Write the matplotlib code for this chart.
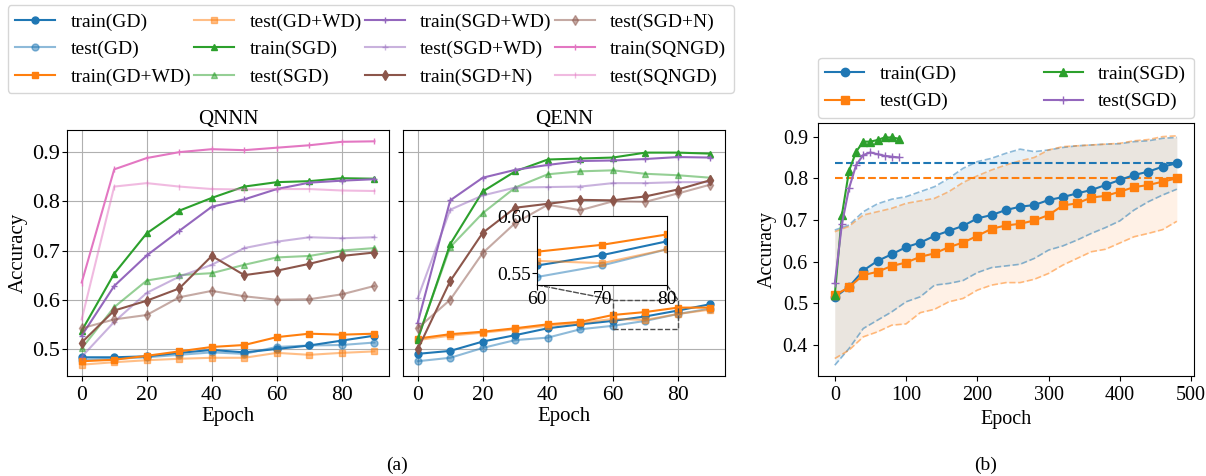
import matplotlib
matplotlib.use('Agg')
import matplotlib.pyplot as plt
from matplotlib.patches import ConnectionPatch

plt.rcParams['font.family'] = 'serif'
plt.rcParams['font.serif'] = ['Liberation Serif', 'DejaVu Serif']
plt.rcParams['font.size'] = 14

# ---- data (a) ----
epochs_a = [0, 10, 20, 30, 40, 50, 60, 70, 80, 90]

qnnn = {
    'train(GD)':     [0.483, 0.483, 0.485, 0.492, 0.498, 0.493, 0.500, 0.507, 0.517, 0.527],
    'test(GD)':      [0.478, 0.480, 0.483, 0.488, 0.493, 0.490, 0.504, 0.507, 0.508, 0.513],
    'train(GD+WD)':  [0.475, 0.478, 0.486, 0.495, 0.504, 0.508, 0.524, 0.531, 0.529, 0.531],
    'test(GD+WD)':   [0.468, 0.473, 0.477, 0.480, 0.482, 0.482, 0.492, 0.488, 0.492, 0.495],
    'train(SGD)':    [0.537, 0.653, 0.735, 0.781, 0.807, 0.830, 0.839, 0.841, 0.847, 0.846],
    'test(SGD)':     [0.501, 0.585, 0.639, 0.650, 0.654, 0.671, 0.686, 0.689, 0.700, 0.705],
    'train(SGD+WD)': [0.527, 0.628, 0.690, 0.740, 0.789, 0.804, 0.825, 0.838, 0.842, 0.845],
    'test(SGD+WD)':  [0.484, 0.555, 0.614, 0.647, 0.671, 0.705, 0.718, 0.727, 0.725, 0.727],
    'train(SGD+N)':  [0.513, 0.578, 0.598, 0.623, 0.689, 0.650, 0.659, 0.673, 0.689, 0.696],
    'test(SGD+N)':   [0.542, 0.560, 0.569, 0.605, 0.618, 0.607, 0.600, 0.601, 0.611, 0.628],
    'train(SQNGD)':  [0.635, 0.865, 0.888, 0.900, 0.906, 0.904, 0.909, 0.914, 0.921, 0.922],
    'test(SQNGD)':   [0.560, 0.830, 0.837, 0.830, 0.825, 0.824, 0.825, 0.825, 0.822, 0.821],
}

qenn = {
    'train(GD)':     [0.490, 0.496, 0.515, 0.528, 0.542, 0.550, 0.557, 0.566, 0.578, 0.591],
    'test(GD)':      [0.475, 0.482, 0.502, 0.518, 0.523, 0.540, 0.547, 0.557, 0.571, 0.582],
    'train(GD+WD)':  [0.521, 0.530, 0.535, 0.542, 0.550, 0.555, 0.569, 0.575, 0.584, 0.584],
    'test(GD+WD)':   [0.518, 0.527, 0.533, 0.540, 0.547, 0.553, 0.561, 0.559, 0.571, 0.580],
    'train(SGD)':    [0.519, 0.713, 0.820, 0.861, 0.885, 0.887, 0.889, 0.899, 0.899, 0.897],
    'test(SGD)':     [0.522, 0.707, 0.776, 0.828, 0.855, 0.861, 0.863, 0.856, 0.853, 0.848],
    'train(SGD+WD)': [0.553, 0.802, 0.848, 0.864, 0.874, 0.882, 0.883, 0.886, 0.890, 0.889],
    'test(SGD+WD)':  [0.603, 0.783, 0.812, 0.828, 0.829, 0.830, 0.837, 0.837, 0.839, 0.839],
    'train(SGD+N)':  [0.499, 0.638, 0.736, 0.787, 0.795, 0.803, 0.802, 0.810, 0.824, 0.843],
    'test(SGD+N)':   [0.542, 0.600, 0.695, 0.756, 0.793, 0.782, 0.800, 0.799, 0.816, 0.834],
}

# color, marker, alpha
styles = {
    'train(GD)':     ('C0', 'o', 1.0),
    'test(GD)':      ('C0', 'o', 0.5),
    'train(GD+WD)':  ('C1', 's', 1.0),
    'test(GD+WD)':   ('C1', 's', 0.5),
    'train(SGD)':    ('C2', '^', 1.0),
    'test(SGD)':     ('C2', '^', 0.5),
    'train(SGD+WD)': ('C4', '+', 1.0),
    'test(SGD+WD)':  ('C4', '+', 0.5),
    'train(SGD+N)':  ('C5', 'd', 1.0),
    'test(SGD+N)':   ('C5', 'd', 0.5),
    'train(SQNGD)':  ('C6', '|', 1.0),
    'test(SQNGD)':   ('C6', '|', 0.5),
}

# ---- data (b) ----
epochs_b = [0, 20, 40, 60, 80, 100, 120, 140, 160, 180, 200, 220, 240,
            260, 280, 300, 320, 340, 360, 380, 400, 420, 440, 460, 480]
train_gd_b = [0.515, 0.540, 0.579, 0.602, 0.618, 0.635, 0.646, 0.662, 0.674, 0.686, 0.704, 0.712, 0.724,
              0.732, 0.736, 0.748, 0.755, 0.764, 0.772, 0.784, 0.796, 0.808, 0.816, 0.828, 0.836]
test_gd_b = [0.520, 0.539, 0.568, 0.576, 0.590, 0.598, 0.612, 0.620, 0.635, 0.646, 0.662, 0.679, 0.687,
             0.691, 0.699, 0.712, 0.735, 0.740, 0.754, 0.758, 0.768, 0.779, 0.784, 0.792, 0.800]
train_hi = [0.676, 0.688, 0.720, 0.739, 0.750, 0.756, 0.768, 0.780, 0.800, 0.824, 0.840, 0.848, 0.860,
            0.870, 0.864, 0.868, 0.874, 0.878, 0.880, 0.882, 0.883, 0.888, 0.890, 0.896, 0.898]
train_lo = [0.352, 0.392, 0.440, 0.460, 0.480, 0.504, 0.516, 0.544, 0.548, 0.555, 0.574, 0.586, 0.590,
            0.594, 0.608, 0.628, 0.638, 0.652, 0.668, 0.682, 0.698, 0.724, 0.744, 0.760, 0.774]
test_hi = [0.672, 0.685, 0.712, 0.720, 0.728, 0.740, 0.746, 0.752, 0.768, 0.790, 0.806, 0.820, 0.832,
           0.842, 0.850, 0.868, 0.876, 0.878, 0.880, 0.882, 0.884, 0.890, 0.893, 0.900, 0.902]
test_lo = [0.368, 0.388, 0.420, 0.432, 0.448, 0.451, 0.478, 0.486, 0.504, 0.512, 0.532, 0.544, 0.550,
           0.550, 0.558, 0.572, 0.592, 0.608, 0.624, 0.630, 0.645, 0.660, 0.668, 0.677, 0.697]

epochs_s = [0, 10, 20, 30, 40, 50, 60, 70, 80, 90]
train_sgd_b = [0.520, 0.712, 0.818, 0.864, 0.888, 0.888, 0.892, 0.898, 0.898, 0.895]
test_sgd_b = [0.548, 0.690, 0.776, 0.832, 0.856, 0.862, 0.858, 0.854, 0.852, 0.850]

# ---- figure ----
fig = plt.figure(figsize=(12.06, 4.76), dpi=100)
ax1 = fig.add_axes([0.0556, 0.2101, 0.2670, 0.5168])
ax2 = fig.add_axes([0.3342, 0.2101, 0.2670, 0.5168], sharey=ax1)
ax3 = fig.add_axes([0.678, 0.210, 0.312, 0.531])


def draw(ax, data, ms=5):
    hs = []
    for name, vals in data.items():
        c, m, a = styles[name]
        h, = ax.plot(epochs_a, vals, color=c, marker=m, alpha=a, markersize=ms, label=name)
        hs.append(h)
    return hs


handles = draw(ax1, qnnn)
draw(ax2, qenn)

for ax, t in [(ax1, 'QNNN'), (ax2, 'QENN')]:
    ax.set_title(t, fontsize=15, pad=4)
    ax.grid(True, color='#b0b0b0')
    ax.set_xlabel('Epoch', fontsize=15, labelpad=2)
    ax.set_xticks([0, 20, 40, 60, 80])
    ax.tick_params(axis='x', labelsize=15.5)
    ax.tick_params(axis='y', labelsize=16, pad=1.5)
ax1.set_ylim(0.445, 0.945)
ax1.set_yticks([0.5, 0.6, 0.7, 0.8, 0.9])
ax1.set_ylabel('Accuracy', fontsize=15, labelpad=3)
plt.setp(ax2.get_yticklabels(), visible=False)

# inset
axins = ax2.inset_axes([0.417, 0.37, 0.402, 0.28])
for name in ['train(GD)', 'test(GD)', 'train(GD+WD)', 'test(GD+WD)']:
    c, m, a = styles[name]
    axins.plot(epochs_a, qenn[name], color=c, marker=m, alpha=a, markersize=5)
axins.set_xlim(60, 80)
axins.set_ylim(0.54, 0.60)
axins.set_xticks([60, 70, 80])
axins.set_yticks([0.55, 0.60])
axins.set_yticklabels(['0.55', '0.60'])
axins.tick_params(labelsize=14, pad=1)
ax2.indicate_inset([60, 0.54, 20, 0.06], edgecolor='0.3', linestyle='--', alpha=1, linewidth=1)
for xa, xd in [(0, 60), (1, 80)]:
    cp = ConnectionPatch(xyA=(xa, 0), coordsA=axins.transAxes, xyB=(xd, 0.60), coordsB=ax2.transData,
                         color='0.3', linestyle='--', linewidth=1)
    ax2.add_artist(cp)

fig.legend(handles=handles, ncol=4, loc='upper left', bbox_to_anchor=(0.003, 0.997),
           columnspacing=0.15, handlelength=2.05, fontsize=14, borderaxespad=0.2)

# (b)
ax3.fill_between(epochs_b, train_lo, train_hi, color='C0', alpha=0.1, linewidth=0)
ax3.fill_between(epochs_b, test_lo, test_hi, color='C1', alpha=0.1, linewidth=0)
ax3.plot(epochs_b, train_hi, '--', color='C0', alpha=0.5, linewidth=1.2)
ax3.plot(epochs_b, train_lo, '--', color='C0', alpha=0.5, linewidth=1.2)
ax3.plot(epochs_b, test_hi, '--', color='C1', alpha=0.5, linewidth=1.2)
ax3.plot(epochs_b, test_lo, '--', color='C1', alpha=0.5, linewidth=1.2)
ax3.hlines(train_gd_b[-1], epochs_b[0], epochs_b[-1], colors='C0', linestyles='--')
ax3.hlines(test_gd_b[-1], epochs_b[0], epochs_b[-1], colors='C1', linestyles='--')
l1, = ax3.plot(epochs_b, train_gd_b, color='C0', marker='o', label='train(GD)')
l2, = ax3.plot(epochs_b, test_gd_b, color='C1', marker='s', label='test(GD)')
l3, = ax3.plot(epochs_s, train_sgd_b, color='C2', marker='^', label='train(SGD)')
l4, = ax3.plot(epochs_s, test_sgd_b, color='C4', marker='+', label='test(SGD)')
ax3.set_ylim(0.326, 0.932)
ax3.set_xticks([0, 100, 200, 300, 400, 500])
ax3.set_yticks([0.4, 0.5, 0.6, 0.7, 0.8, 0.9])
ax3.tick_params(labelsize=14.5)
ax3.set_xlabel('Epoch', fontsize=14.5)
ax3.set_ylabel('Accuracy', fontsize=14.5)
ax3.legend(handles=[l1, l2, l3, l4], ncol=2, loc='lower left', bbox_to_anchor=(0, 1.02, 1, 0.2),
           mode='expand', borderaxespad=0, fontsize=14)

fig.text(0.329, 0.023, '(a)', ha='center', va='center', fontsize=14)
fig.text(0.817, 0.023, '(b)', ha='center', va='center', fontsize=14)

fig.savefig('out.png', dpi=100)
